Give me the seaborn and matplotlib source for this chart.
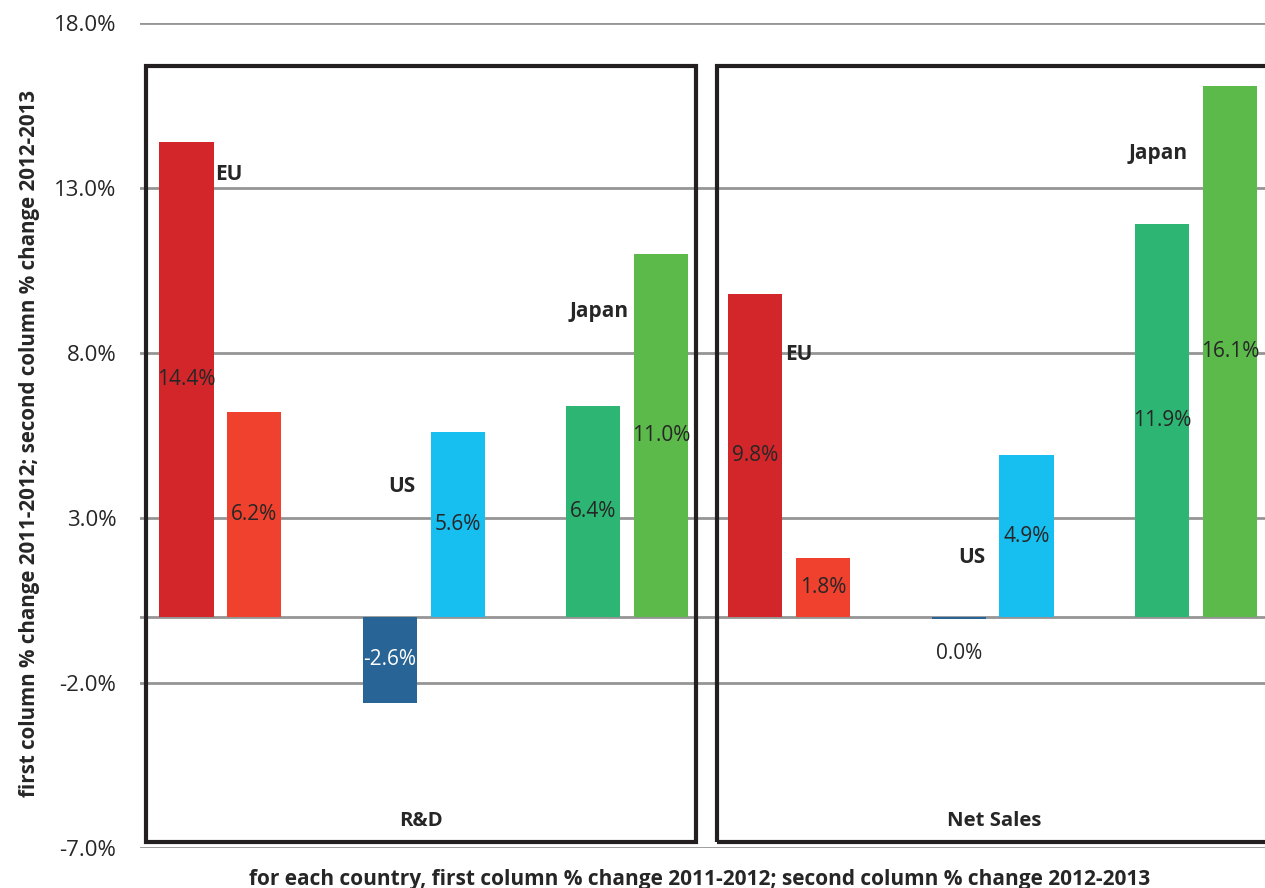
import matplotlib
matplotlib.use("Agg")
import matplotlib.pyplot as plt
from matplotlib.patches import Rectangle
import seaborn as sns
import pandas as pd
import numpy as np

# ---------------- data ----------------
panels = ["R&D", "Net Sales"]
countries = ["EU", "US", "Japan"]
periods = ["2011-2012", "2012-2013"]
rd_values = [14.4, 6.2, -2.6, 5.6, 6.4, 11.0]          # EU, EU, US, US, Japan, Japan
sales_values = [9.8, 1.8, -0.049, 4.9, 11.9, 16.1]
bar_colors = ["#D3262A", "#EF412D", "#286496", "#17BEF0", "#2DB673", "#5BBA4A"]
y_ticks = [-7.0, -2.0, 3.0, 8.0, 13.0, 18.0]
# country label anchor (offset from first bar of the pair, y value)
rd_country_label_dx = [0.63, 0.17, 0.08]
rd_country_label_y = [13.42, 3.95, 9.25]
sales_country_label_dx = [0.64, 0.20, -0.06]
sales_country_label_y = [7.95, 1.80, 14.05]
ylabel = "first column % change 2011-2012; second column % change 2012-2013"
xlabel = "for each country, first column % change 2011-2012; second column % change 2012-2013"

# ---------------- layout ----------------
panel_offset = 8.39
country_step = 3
rows = []
for p, vals in enumerate([rd_values, sales_values]):
    for i, v in enumerate(vals):
        c, s = divmod(i, 2)
        rows.append(dict(panel=panels[p], country=countries[c], period=periods[s],
                         key=f"{countries[c]} {periods[s]}", color=bar_colors[i],
                         pos=p * panel_offset + c * country_step + s, value=v))
df = pd.DataFrame(rows)
palette = {k: col for k, col in zip(df["key"], df["color"])}

sns.set_theme(style="white")
plt.rcParams["font.family"] = ["Open Sans", "DejaVu Sans"]
text_color = "#262626"

fig = plt.figure(figsize=(12.65, 8.88), dpi=100)
ax = fig.add_axes([140 / 1265, 1 - 848 / 888, 1 - 140 / 1265, (848 - 23) / 888])

sns.barplot(data=df, x="pos", y="value", hue="key", palette=palette, native_scale=True,
            dodge=False, width=0.80, legend=False, ax=ax, saturation=1,
            linewidth=0, zorder=3)

ax.set_ylim(-7, 18)
ax.set_xlim(-0.686, 15.907)
ax.set_yticks(y_ticks)
ax.set_yticklabels([f"{t:.1f}%" for t in y_ticks], fontsize=16, color=text_color)
ax.tick_params(axis="y", length=0, pad=17)
ax.set_xticks([])
for sp in ax.spines.values():
    sp.set_visible(False)
for t in y_ticks:
    ax.axhline(t, color="#959595", lw=2.0, zorder=1)
ax.axhline(0, color="#959595", lw=2.0, zorder=2.5)

# value labels
for _, r in df.iterrows():
    v = r["value"]
    lab = f"{v:.1f}%"
    if float(lab[:-1]) == 0:
        lab = "0.0%"
    if abs(v) < 1:
        y = min(v, 0) - 1.06
        col = text_color
    else:
        y = v / 2
        col = "white" if r["color"] == "#286496" else text_color
    ax.text(r["pos"], y, lab, ha="center", va="center", fontsize=15, color=col, zorder=5)

# country labels
for p, (dxs, ys) in enumerate([(rd_country_label_dx, rd_country_label_y),
                               (sales_country_label_dx, sales_country_label_y)]):
    for c in range(3):
        x0 = p * panel_offset + c * country_step
        ax.text(x0 + dxs[c], ys[c], countries[c], ha="center", va="center",
                fontsize=15, fontweight="bold", color=text_color, zorder=5)

# panel boxes and labels
box_top, box_bottom = 16.7, -6.82
for p, name in enumerate(panels):
    left = p * panel_offset - 0.6
    right = p * panel_offset + 2 * country_step + 1 + 0.52
    if p == 1:
        left = p * panel_offset - 0.56
        right = p * panel_offset + 2 * country_step + 1 + 0.62
    ax.add_patch(Rectangle((left, box_bottom), right - left, box_top - box_bottom,
                           fill=False, edgecolor="#231F20", lw=3.0, zorder=6))
    ax.text((left + right) / 2, -6.18, name, ha="center", va="center",
            fontsize=14.6, fontweight="bold", color=text_color, zorder=6)

ax.set_ylabel(ylabel, fontsize=14.8, fontweight="bold", color=text_color)
ax.yaxis.label.set_verticalalignment("center")
ax.yaxis.set_label_coords(-0.098, 0.49)
ax.set_xlabel(xlabel, fontsize=15, fontweight="bold", color=text_color)
ax.xaxis.label.set_verticalalignment("baseline")
ax.xaxis.set_label_coords(0.497, -0.0445)

fig.savefig("out.png", dpi=100)
